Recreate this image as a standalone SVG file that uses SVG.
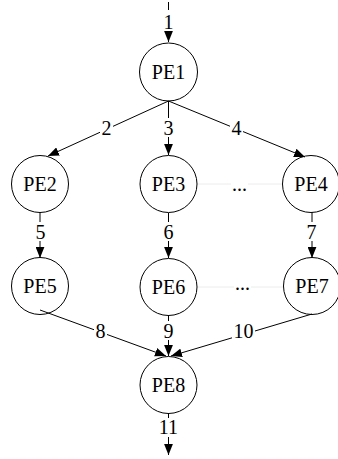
<svg xmlns="http://www.w3.org/2000/svg" width="338" height="459" viewBox="0 0 338 459">
<style>
.n circle{fill:none;stroke:#000;stroke-width:1}
.n text{font-family:"Liberation Serif","Times New Roman",serif;font-size:20px;text-anchor:middle;fill:#000}
.e line{stroke:#000;stroke-width:1}
.e .faint{stroke:#ececec}
.lb rect{fill:#fff}
.lb text{font-family:"Liberation Serif","Times New Roman",serif;font-size:20px;text-anchor:middle;fill:#000}
</style>
<defs>
<marker id="ah" viewBox="0 0 10 8" refX="10" refY="4" markerWidth="11" markerHeight="9" markerUnits="userSpaceOnUse" orient="auto">
<path d="M0,0 L10,4 L0,8 Z" fill="#000"/>
</marker>
</defs>
<rect width="338" height="459" fill="#fff"/>
<g id="connectors" class="e">
<line x1="168.5" y1="2" x2="168.5" y2="42" marker-end="url(#ah)"/>
<line x1="168.5" y1="101" x2="48" y2="156" marker-end="url(#ah)"/>
<line x1="168.5" y1="101" x2="168.5" y2="155" marker-end="url(#ah)"/>
<line x1="168.5" y1="101" x2="305" y2="157" marker-end="url(#ah)"/>
<line class="faint" x1="197" y1="184" x2="283" y2="184"/>
<line x1="40" y1="212" x2="40" y2="258" marker-end="url(#ah)"/>
<line x1="168.5" y1="213" x2="168.5" y2="258" marker-end="url(#ah)"/>
<line x1="312" y1="212" x2="312" y2="258" marker-end="url(#ah)"/>
<line class="faint" x1="197" y1="287" x2="284" y2="287"/>
<line x1="40" y1="310" x2="166" y2="356" marker-end="url(#ah)"/>
<line x1="168.5" y1="315" x2="168.5" y2="356" marker-end="url(#ah)"/>
<line x1="312" y1="314" x2="171" y2="356" marker-end="url(#ah)"/>
<line x1="168.5" y1="413" x2="168.5" y2="455" marker-end="url(#ah)"/>
</g>
<g id="labels" class="lb">
<rect x="162" y="10" width="13" height="21"/><text x="168.5" y="29">1</text>
<rect x="100" y="118" width="13" height="19"/><text x="106.5" y="135">2</text>
<rect x="162" y="118" width="13" height="19"/><text x="168.5" y="135">3</text>
<rect x="230" y="118" width="13" height="19"/><text x="236.5" y="135">4</text>
<rect x="231" y="173" width="17" height="22"/><text x="239.5" y="191">...</text>
<rect x="34" y="222" width="13" height="19"/><text x="40.5" y="239">5</text>
<rect x="162" y="222" width="13" height="19"/><text x="168.5" y="239">6</text>
<rect x="305" y="222" width="13" height="19"/><text x="311.5" y="239">7</text>
<rect x="234" y="273" width="17" height="22"/><text x="242.5" y="290">...</text>
<rect x="94" y="321" width="13" height="19"/><text x="100.5" y="338">8</text>
<rect x="162" y="321" width="13" height="19"/><text x="168.5" y="338">9</text>
<rect x="232" y="321" width="23" height="19"/><text x="243.5" y="338">10</text>
<rect x="157" y="418" width="23" height="19"/><text x="168.5" y="434">11</text>
</g>
<g id="PE1" class="n"><circle cx="168.5" cy="72" r="29"/><text x="168.5" y="79">PE1</text></g>
<g id="PE2" class="n"><circle cx="40" cy="184" r="28.5"/><text x="40" y="191">PE2</text></g>
<g id="PE3" class="n"><circle cx="168.5" cy="184" r="28.5"/><text x="168.5" y="191">PE3</text></g>
<g id="PE4" class="n"><circle cx="311" cy="184" r="28.5"/><text x="311" y="191">PE4</text></g>
<g id="PE5" class="n"><circle cx="40" cy="286" r="28.5"/><text x="40" y="293">PE5</text></g>
<g id="PE6" class="n"><circle cx="168.5" cy="287" r="28.5"/><text x="168.5" y="294">PE6</text></g>
<g id="PE7" class="n"><circle cx="312" cy="286" r="28.5"/><text x="312" y="293">PE7</text></g>
<g id="PE8" class="n"><circle cx="168.5" cy="385" r="28.5"/><text x="168.5" y="392">PE8</text></g>
</svg>
